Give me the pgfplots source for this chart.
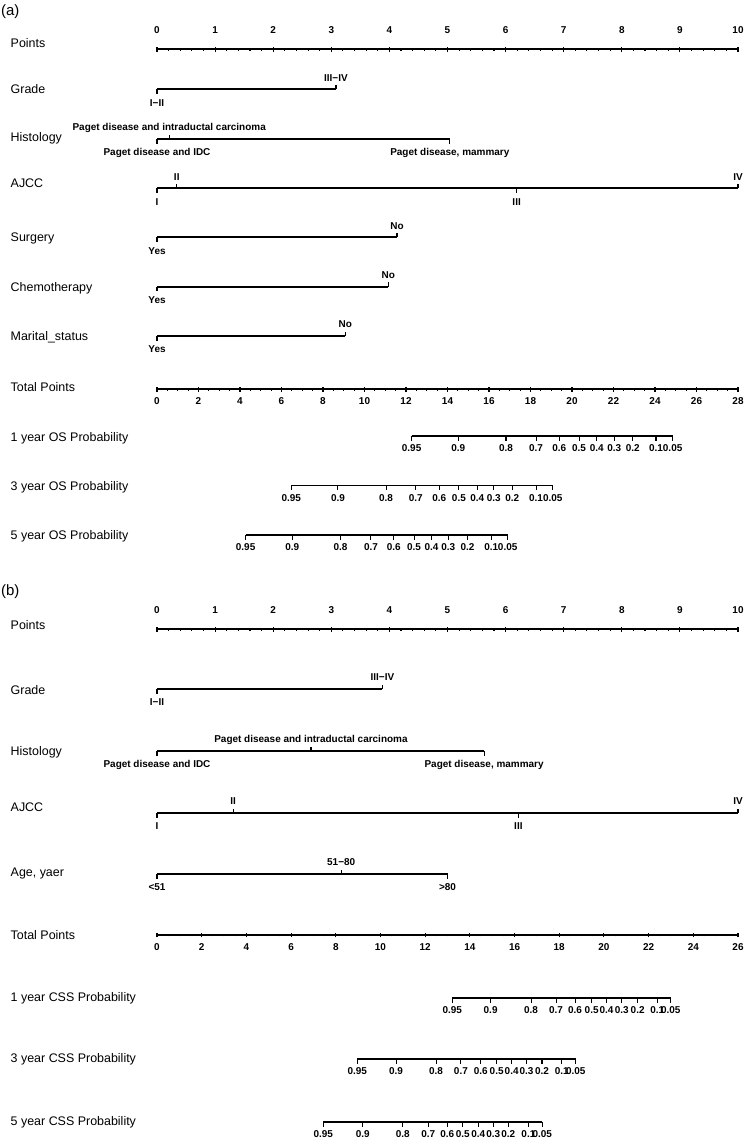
\documentclass[border=0pt]{standalone}
\usepackage{fontspec}
\setmainfont{Liberation Sans}
\usepackage{pgfplots}
\pgfplotsset{compat=1.18}
\newcommand{\tl}{\fontsize{10}{12}\selectfont\bfseries}
\newcommand{\rl}{\fontsize{12.5}{14}\selectfont}
\pgfdeclareplotmark{tkup}{\pgfpathmoveto{\pgfpointorigin}\pgfpathlineto{\pgfpoint{0pt}{4.5bp}}\pgfusepathqstroke}
\pgfdeclareplotmark{tkdn}{\pgfpathmoveto{\pgfpointorigin}\pgfpathlineto{\pgfpoint{0pt}{-4.5bp}}\pgfusepathqstroke}
\pgfplotsset{
  nomo/.style={scale only axis, width=581bp, clip=false,
    axis y line=none, ytick=\empty,
    x axis line style={draw=none},
    tick align=outside, major tick length=4.5bp, minor tick length=2.5bp,
    every tick/.style={black, line width=1.1bp},
    xticklabel style={font=\tl, inner sep=0pt},
  },
  seg/.style={black, line width=1.7bp, no marks},
  lab/.style={point meta=explicit symbolic, nodes near coords,
     every node near coord/.append style={font=\tl, inner sep=0pt, anchor=base, yshift=#1}},
  up/.style={black, only marks, mark=tkup, mark options={line width=1.1bp}, lab=8.2bp},
  dn/.style={black, only marks, mark=tkdn, mark options={line width=1.1bp}, lab=-16.8bp},
  prob/.style={black, line width=1.7bp, mark=tkdn, mark options={line width=1.1bp}, lab=-15.5bp},
}
\begin{document}
\begin{tikzpicture}
\path[use as bounding box] (0,0) rectangle (750bp,-1142bp);
% ---------------- panel (a) ----------------
\node[anchor=base west, font=\fontsize{15}{17}\selectfont, inner sep=0pt] at (1bp,-15bp) {(a)};
\node[anchor=base west, font=\rl, inner sep=0pt] at (10.5bp,-47.3bp) {Points};
\node[anchor=base west, font=\rl, inner sep=0pt] at (10.5bp,-93.8bp) {Grade};
\node[anchor=base west, font=\rl, inner sep=0pt] at (10.5bp,-141.3bp) {Histology};
\node[anchor=base west, font=\rl, inner sep=0pt] at (10.5bp,-187.3bp) {AJCC};
\node[anchor=base west, font=\rl, inner sep=0pt] at (10.5bp,-241.3bp) {Surgery};
\node[anchor=base west, font=\rl, inner sep=0pt] at (10.5bp,-291.3bp) {Chemotherapy};
\node[anchor=base west, font=\rl, inner sep=0pt] at (10.5bp,-340.3bp) {Marital\_status};
\node[anchor=base west, font=\rl, inner sep=0pt] at (10.5bp,-391.3bp) {Total Points};
\node[anchor=base west, font=\rl, inner sep=0pt] at (10.5bp,-441.3bp) {1 year OS Probability};
\node[anchor=base west, font=\rl, inner sep=0pt] at (10.5bp,-490.3bp) {3 year OS Probability};
\node[anchor=base west, font=\rl, inner sep=0pt] at (10.5bp,-539.3bp) {5 year OS Probability};

\begin{axis}[nomo, at={(157bp,-49.3bp)}, anchor=north west, height=295.7bp,
  xmin=0, xmax=10, ymin=-345, ymax=-49.3, axis x line=top,
  xtick={0,1,2,3,4,5,6,7,8,9,10}, xticklabels={0,1,2,3,4,5,6,7,8,9,10}, minor x tick num=4,
  xticklabel style={anchor=base, yshift=13.5bp}]
% Points scale line
\addplot[seg] coordinates {(0,-49.3) (10,-49.3)};
% Grade
\addplot[seg] coordinates {(0,-89.3) (3.08,-89.3)};
\addplot[dn] coordinates {(0,-89.3) [I−II]};
\addplot[up] coordinates {(3.08,-89.3) [III−IV]};
% Histology
\addplot[seg] coordinates {(0,-139) (5.04,-139)};
\addplot[dn] coordinates {(0,-139) [Paget disease and IDC] (5.04,-139) [{Paget disease, mammary}]};
\addplot[up] coordinates {(0.21,-139) [Paget disease and intraductal carcinoma]};
% AJCC
\addplot[seg] coordinates {(0,-188.3) (10,-188.3)};
\addplot[dn] coordinates {(0,-188.3) [I] (6.19,-188.3) [III]};
\addplot[up] coordinates {(0.34,-188.3) [II] (10,-188.3) [IV]};
% Surgery
\addplot[seg] coordinates {(0,-237.3) (4.13,-237.3)};
\addplot[dn] coordinates {(0,-237.3) [Yes]};
\addplot[up] coordinates {(4.13,-237.3) [No]};
% Chemotherapy
\addplot[seg] coordinates {(0,-286.7) (3.98,-286.7)};
\addplot[dn] coordinates {(0,-286.7) [Yes]};
\addplot[up] coordinates {(3.98,-286.7) [No]};
% Marital status
\addplot[seg] coordinates {(0,-336) (3.24,-336)};
\addplot[dn] coordinates {(0,-336) [Yes]};
\addplot[up] coordinates {(3.24,-336) [No]};
\end{axis}

\begin{axis}[nomo, at={(157bp,-389.3bp)}, anchor=south west, height=9.3bp,
  xmin=0, xmax=28, ymin=-389.3, ymax=-380, axis x line=bottom,
  xtick={0,2,4,6,8,10,12,14,16,18,20,22,24,26,28},
  xticklabels={0,2,4,6,8,10,12,14,16,18,20,22,24,26,28}, minor x tick num=3,
  xticklabel style={anchor=base, yshift=-12.8bp}]
\addplot[seg] coordinates {(0,-389.3) (28,-389.3)};
\addplot[prob] coordinates {(12.27,-436)[0.95] (14.52,-436)[0.9] (16.82,-436)[0.8] (18.27,-436)[0.7] (19.39,-436)[0.6] (20.34,-436)[0.5] (21.19,-436)[0.4] (22.04,-436)[0.3] (22.93,-436)[0.2] (24.05,-436)[0.1] (24.85,-436)[0.05]};
\addplot[prob] coordinates {(6.47,-485.5)[0.95] (8.72,-485.5)[0.9] (11.04,-485.5)[0.8] (12.47,-485.5)[0.7] (13.60,-485.5)[0.6] (14.55,-485.5)[0.5] (15.43,-485.5)[0.4] (16.23,-485.5)[0.3] (17.12,-485.5)[0.2] (18.27,-485.5)[0.1] (19.07,-485.5)[0.05]};
\addplot[prob] coordinates {(4.27,-535)[0.95] (6.52,-535)[0.9] (8.84,-535)[0.8] (10.31,-535)[0.7] (11.41,-535)[0.6] (12.39,-535)[0.5] (13.23,-535)[0.4] (14.04,-535)[0.3] (14.96,-535)[0.2] (16.11,-535)[0.1] (16.90,-535)[0.05]};
\end{axis}

% ---------------- panel (b) ----------------
\node[anchor=base west, font=\fontsize{15}{17}\selectfont, inner sep=0pt] at (1bp,-595bp) {(b)};
\node[anchor=base west, font=\rl, inner sep=0pt] at (10.5bp,-629.3bp) {Points};
\node[anchor=base west, font=\rl, inner sep=0pt] at (10.5bp,-694.3bp) {Grade};
\node[anchor=base west, font=\rl, inner sep=0pt] at (10.5bp,-755.3bp) {Histology};
\node[anchor=base west, font=\rl, inner sep=0pt] at (10.5bp,-811.3bp) {AJCC};
\node[anchor=base west, font=\rl, inner sep=0pt] at (10.5bp,-876.3bp) {Age, yaer};
\node[anchor=base west, font=\rl, inner sep=0pt] at (10.5bp,-939.3bp) {Total Points};
\node[anchor=base west, font=\rl, inner sep=0pt] at (10.5bp,-1001.3bp) {1 year CSS Probability};
\node[anchor=base west, font=\rl, inner sep=0pt] at (10.5bp,-1062.3bp) {3 year CSS Probability};
\node[anchor=base west, font=\rl, inner sep=0pt] at (10.5bp,-1125.3bp) {5 year CSS Probability};

\begin{axis}[nomo, at={(157bp,-629.3bp)}, anchor=north west, height=255.7bp,
  xmin=0, xmax=10, ymin=-885, ymax=-629.3, axis x line=top,
  xtick={0,1,2,3,4,5,6,7,8,9,10}, xticklabels={0,1,2,3,4,5,6,7,8,9,10}, minor x tick num=4,
  xticklabel style={anchor=base, yshift=13.5bp}]
\addplot[seg] coordinates {(0,-629.3) (10,-629.3)};
% Grade
\addplot[seg] coordinates {(0,-689) (3.88,-689)};
\addplot[dn] coordinates {(0,-689) [I−II]};
\addplot[up] coordinates {(3.88,-689) [III−IV]};
% Histology
\addplot[seg] coordinates {(0,-751) (5.63,-751)};
\addplot[dn] coordinates {(0,-751) [Paget disease and IDC] (5.63,-751) [{Paget disease, mammary}]};
\addplot[up] coordinates {(2.65,-751) [Paget disease and intraductal carcinoma]};
% AJCC
\addplot[seg] coordinates {(0,-813) (10,-813)};
\addplot[dn] coordinates {(0,-813) [I] (6.22,-813) [III]};
\addplot[up] coordinates {(1.31,-813) [II] (10,-813) [IV]};
% Age
\addplot[seg] coordinates {(0,-874) (5.0,-874)};
\addplot[dn] coordinates {(0,-874) [<51] (5.0,-874) [>80]};
\addplot[up] coordinates {(3.17,-874) [51−80]};
\end{axis}

\begin{axis}[nomo, at={(157bp,-935bp)}, anchor=south west, height=9bp,
  xmin=0, xmax=26, ymin=-935, ymax=-926, axis x line=bottom,
  xtick={0,2,4,6,8,10,12,14,16,18,20,22,24,26},
  xticklabels={0,2,4,6,8,10,12,14,16,18,20,22,24,26}, minor x tick num=3,
  xticklabel style={anchor=base, yshift=-12.8bp}]
\addplot[seg] coordinates {(0,-935) (26,-935)};
\addplot[prob] coordinates {(13.21,-998)[0.95] (14.93,-998)[0.9] (16.74,-998)[0.8] (17.86,-998)[0.7] (18.71,-998)[0.6] (19.45,-998)[0.5] (20.12,-998)[0.4] (20.80,-998)[0.3] (21.51,-998)[0.2] (22.39,-998)[0.1] (22.99,-998)[0.05]};
\addplot[prob] coordinates {(8.96,-1059)[0.95] (10.70,-1059)[0.9] (12.49,-1059)[0.8] (13.60,-1059)[0.7] (14.49,-1059)[0.6] (15.20,-1059)[0.5] (15.87,-1059)[0.4] (16.54,-1059)[0.3] (17.23,-1059)[0.2] (18.11,-1059)[0.1] (18.74,-1059)[0.05]};
\addplot[prob] coordinates {(7.44,-1122)[0.95] (9.21,-1122)[0.9] (11.00,-1122)[0.8] (12.14,-1122)[0.7] (12.99,-1122)[0.6] (13.68,-1122)[0.5] (14.38,-1122)[0.4] (15.05,-1122)[0.3] (15.72,-1122)[0.2] (16.62,-1122)[0.1] (17.24,-1122)[0.05]};
\end{axis}
\end{tikzpicture}
\end{document}
